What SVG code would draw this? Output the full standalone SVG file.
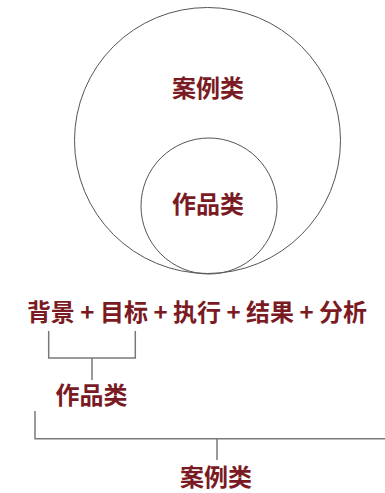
<svg xmlns="http://www.w3.org/2000/svg" width="385" height="493" viewBox="0 0 385 493">
<style>
text{font-family:"Noto Sans CJK SC","Noto Sans",sans-serif;font-weight:bold;fill:#7a1b24;text-anchor:middle;font-size:24px}
.c{fill:none;stroke:#555;stroke-width:1}
.b{fill:none;stroke:#7a7a7a;stroke-width:1.5}
</style>
<rect width="385" height="493" fill="#fff"/>
<g id="outer"><circle class="c" cx="207.5" cy="140.5" r="133"/><text x="208" y="97">案例类</text></g>
<g id="inner"><circle class="c" cx="209" cy="206" r="68"/><text x="208" y="213">作品类</text></g>
<g id="formula"><text x="197" y="321">背景 + 目标 + 执行 + 结果 + 分析</text></g>
<g id="connectors">
<path class="b" d="M48.7 331V358H135.3V331M92 358V380"/>
<path class="b" d="M35 411V438.7H385M217 438.7V460"/>
</g>
<g id="label1"><text x="91.5" y="404">作品类</text></g>
<g id="label2"><text x="216" y="486">案例类</text></g>
</svg>
